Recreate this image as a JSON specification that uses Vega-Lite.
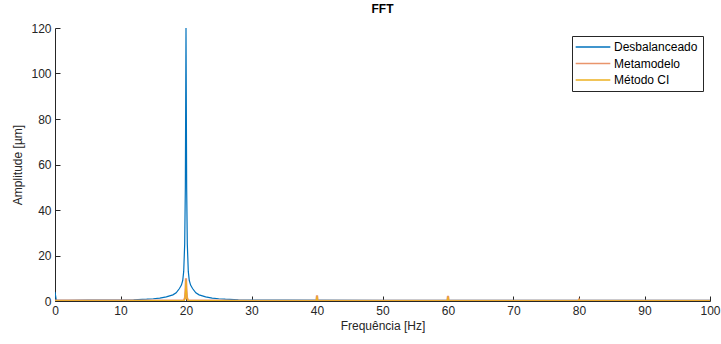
{
  "$schema": "https://vega.github.io/schema/vega-lite/v6.json",
  "width": 655,
  "height": 273,
  "autosize": "none",
  "padding": {"left": 55, "top": 28, "right": 11, "bottom": 43},
  "background": "white",
  "config": {
    "font": "Liberation Sans",
    "view": {"stroke": null},
    "axis": {"domainColor": "#262626", "tickColor": "#262626", "labelColor": "#262626", "titleColor": "#262626", "labelFontSize": 12, "titleFontSize": 12, "titleFontWeight": "normal", "grid": false, "tickSize": -5, "domainWidth": 1, "tickWidth": 1, "labelFlush": false}
  },
  "title": {"text": "FFT", "fontSize": 12, "fontWeight": "bold", "color": "#000000", "offset": 6},
  "data": {"values": [
    {"f": 0, "a": 4, "s": "Desbalanceado"},
    {"f": 0.2, "a": 0.3, "s": "Desbalanceado"},
    {"f": 2, "a": 0.3, "s": "Desbalanceado"},
    {"f": 5, "a": 0.35, "s": "Desbalanceado"},
    {"f": 8, "a": 0.4, "s": "Desbalanceado"},
    {"f": 10, "a": 0.45, "s": "Desbalanceado"},
    {"f": 12, "a": 0.55, "s": "Desbalanceado"},
    {"f": 14, "a": 0.8, "s": "Desbalanceado"},
    {"f": 15, "a": 1.0, "s": "Desbalanceado"},
    {"f": 16, "a": 1.3, "s": "Desbalanceado"},
    {"f": 17, "a": 1.8, "s": "Desbalanceado"},
    {"f": 18, "a": 2.7, "s": "Desbalanceado"},
    {"f": 18.5, "a": 3.6, "s": "Desbalanceado"},
    {"f": 19, "a": 5.5, "s": "Desbalanceado"},
    {"f": 19.3, "a": 7, "s": "Desbalanceado"},
    {"f": 19.5, "a": 9, "s": "Desbalanceado"},
    {"f": 19.65, "a": 13, "s": "Desbalanceado"},
    {"f": 19.8, "a": 25, "s": "Desbalanceado"},
    {"f": 19.9, "a": 50, "s": "Desbalanceado"},
    {"f": 20, "a": 120, "s": "Desbalanceado"},
    {"f": 20.1, "a": 50, "s": "Desbalanceado"},
    {"f": 20.2, "a": 25, "s": "Desbalanceado"},
    {"f": 20.35, "a": 13, "s": "Desbalanceado"},
    {"f": 20.5, "a": 9, "s": "Desbalanceado"},
    {"f": 20.7, "a": 7, "s": "Desbalanceado"},
    {"f": 21, "a": 5.5, "s": "Desbalanceado"},
    {"f": 21.5, "a": 3.6, "s": "Desbalanceado"},
    {"f": 22, "a": 2.7, "s": "Desbalanceado"},
    {"f": 23, "a": 1.8, "s": "Desbalanceado"},
    {"f": 24, "a": 1.3, "s": "Desbalanceado"},
    {"f": 25, "a": 1.0, "s": "Desbalanceado"},
    {"f": 26, "a": 0.8, "s": "Desbalanceado"},
    {"f": 28, "a": 0.55, "s": "Desbalanceado"},
    {"f": 30, "a": 0.45, "s": "Desbalanceado"},
    {"f": 35, "a": 0.35, "s": "Desbalanceado"},
    {"f": 50, "a": 0.3, "s": "Desbalanceado"},
    {"f": 75, "a": 0.3, "s": "Desbalanceado"},
    {"f": 100, "a": 0.3, "s": "Desbalanceado"},
    {"f": 0, "a": 0.2, "s": "Metamodelo"},
    {"f": 10, "a": 0.15, "s": "Metamodelo"},
    {"f": 19.7, "a": 0.3, "s": "Metamodelo"},
    {"f": 19.85, "a": 1.5, "s": "Metamodelo"},
    {"f": 19.95, "a": 6, "s": "Metamodelo"},
    {"f": 20, "a": 10, "s": "Metamodelo"},
    {"f": 20.05, "a": 6, "s": "Metamodelo"},
    {"f": 20.15, "a": 1.5, "s": "Metamodelo"},
    {"f": 20.3, "a": 0.3, "s": "Metamodelo"},
    {"f": 30, "a": 0.1, "s": "Metamodelo"},
    {"f": 39.9, "a": 0.1, "s": "Metamodelo"},
    {"f": 40, "a": 2.5, "s": "Metamodelo"},
    {"f": 40.1, "a": 0.1, "s": "Metamodelo"},
    {"f": 59.9, "a": 0.1, "s": "Metamodelo"},
    {"f": 60, "a": 2.2, "s": "Metamodelo"},
    {"f": 60.1, "a": 0.1, "s": "Metamodelo"},
    {"f": 79.9, "a": 0.1, "s": "Metamodelo"},
    {"f": 80, "a": 0.6, "s": "Metamodelo"},
    {"f": 80.1, "a": 0.1, "s": "Metamodelo"},
    {"f": 100, "a": 0.1, "s": "Metamodelo"},
    {"f": 0, "a": 0.1, "s": "Método CI"},
    {"f": 10, "a": 0.1, "s": "Método CI"},
    {"f": 19.7, "a": 0.3, "s": "Método CI"},
    {"f": 19.85, "a": 1.3, "s": "Método CI"},
    {"f": 19.95, "a": 5, "s": "Método CI"},
    {"f": 20, "a": 9, "s": "Método CI"},
    {"f": 20.05, "a": 5, "s": "Método CI"},
    {"f": 20.15, "a": 1.3, "s": "Método CI"},
    {"f": 20.3, "a": 0.3, "s": "Método CI"},
    {"f": 30, "a": 0.1, "s": "Método CI"},
    {"f": 39.9, "a": 0.1, "s": "Método CI"},
    {"f": 40, "a": 2.0, "s": "Método CI"},
    {"f": 40.1, "a": 0.1, "s": "Método CI"},
    {"f": 59.9, "a": 0.1, "s": "Método CI"},
    {"f": 60, "a": 1.8, "s": "Método CI"},
    {"f": 60.1, "a": 0.1, "s": "Método CI"},
    {"f": 79.9, "a": 0.1, "s": "Método CI"},
    {"f": 80, "a": 0.5, "s": "Método CI"},
    {"f": 80.1, "a": 0.1, "s": "Método CI"},
    {"f": 100, "a": 0.1, "s": "Método CI"}
  ]},
  "encoding": {
    "x": {"field": "f", "type": "quantitative", "scale": {"domain": [0, 100], "nice": false}, "axis": {"title": "Frequência [Hz]", "values": [0,10,20,30,40,50,60,70,80,90,100], "labelPadding": 9, "titlePadding": 4}},
    "y": {"field": "a", "type": "quantitative", "scale": {"domain": [0, 120], "nice": false}, "axis": {"title": "Amplitude [µm]", "values": [0,20,40,60,80,100,120], "labelPadding": 9, "titlePadding": 6}},
    "color": {"field": "s", "type": "nominal", "scale": {"domain": ["Desbalanceado", "Metamodelo", "Método CI"], "range": ["#0072BD", "#E9956B", "#EDB120"]}, "legend": {"title": null, "orient": "none", "legendX": 517, "legendY": 8, "direction": "vertical", "symbolType": "M-5,0H5", "symbolSize": 48, "symbolStrokeWidth": 1.5, "symbolOffset": 10, "labelFontSize": 12, "labelColor": "#000000", "strokeColor": "#262626", "fillColor": "white", "padding": 5, "rowPadding": 4.5, "labelOffset": 15, "labelLimit": 200}},
    "order": {"field": "f", "type": "quantitative"}
  },
  "layer": [
    {"transform": [{"filter": "datum.s === 'Desbalanceado'"}], "mark": {"type": "line", "clip": true, "strokeWidth": 1.2}},
    {"transform": [{"filter": "datum.s === 'Metamodelo'"}], "mark": {"type": "line", "clip": true, "strokeWidth": 2.2}},
    {"transform": [{"filter": "datum.s === 'Método CI'"}], "mark": {"type": "line", "clip": true, "strokeWidth": 1.2}}
  ]
}
